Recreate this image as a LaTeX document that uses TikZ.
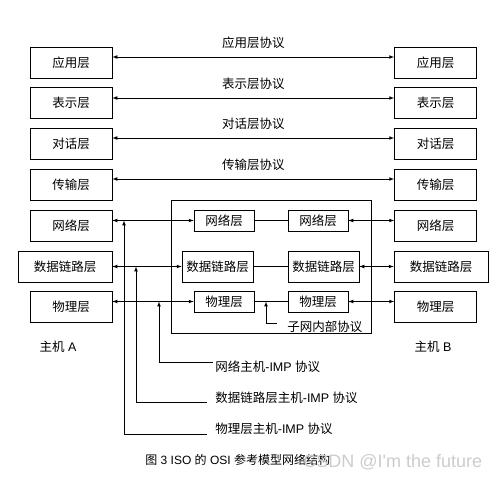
\documentclass[tikz,border=0pt]{standalone}
\usepackage{fontspec}
\setmainfont{Noto Sans CJK SC}
\newfontfamily\latfont{Liberation Sans}
\begin{document}
\begin{tikzpicture}[x=1pt,y=-1pt,line width=0.7pt,
  layer/.style={draw, minimum width=82pt, minimum height=31pt, inner sep=0pt, font=\fontsize{12.5}{14}\selectfont},
  widelayer/.style={layer, minimum width=94pt},
  sublayer/.style={draw, minimum width=60pt, minimum height=21pt, inner sep=0pt, font=\fontsize{12.5}{14}\selectfont},
  subwide/.style={sublayer, minimum width=71pt, minimum height=31pt},
  lbl/.style={inner sep=0pt, font=\fontsize{12.5}{14}\selectfont}]
\useasboundingbox (0,0) rectangle (500,479);

% host A
\node[layer] (la) at (71,62.5) {应用层};
\node[layer] (lp) at (71,103) {表示层};
\node[layer] (ls) at (71,143.5) {对话层};
\node[layer] (lt) at (71,184.5) {传输层};
\node[layer] (ln) at (71,225.5) {网络层};
\node[widelayer] (ld) at (65,266.5) {数据链路层};
\node[layer] (lf) at (71,307) {物理层};
\node[lbl] (ha) at (58,347) {主机{\latfont\ A}};

% host B
\node[layer] (ra) at (435.5,62.5) {应用层};
\node[layer] (rp) at (435.5,103) {表示层};
\node[layer] (rs) at (435.5,143.5) {对话层};
\node[layer] (rt) at (435.5,184.5) {传输层};
\node[layer] (rn) at (435.5,225.5) {网络层};
\node[widelayer] (rd) at (441,266.5) {数据链路层};
\node[layer] (rf) at (435.5,307) {物理层};
\node[lbl] (hb) at (433,347) {主机{\latfont\ B}};

% subnet
\draw (171,200) rectangle (371,333);
\node[sublayer] (sn1) at (224,220.5) {网络层};
\node[sublayer] (sn2) at (318,220.5) {网络层};
\node[subwide] (sd1) at (217.5,266.5) {数据链路层};
\node[subwide] (sd2) at (323.5,266.5) {数据链路层};
\node[sublayer] (sf1) at (224,301.5) {物理层};
\node[sublayer] (sf2) at (318,301.5) {物理层};
\draw (sn1) -- (sn2);
\draw (sd1) -- (sd2);
\draw (sf1) -- (sf2);

% peer protocols
\draw[latex-latex] ([yshift=5.5pt]la.east) -- ([yshift=5.5pt]ra.west) node[midway, above=8pt, lbl] {应用层协议};
\draw[latex-latex] ([yshift=5pt]lp.east) -- ([yshift=5pt]rp.west) node[midway, above=8pt, lbl] {表示层协议};
\draw[latex-latex] ([yshift=5.5pt]ls.east) -- ([yshift=5.5pt]rs.west) node[midway, above=8pt, lbl] {对话层协议};
\draw[latex-latex] ([yshift=5.5pt]lt.east) -- ([yshift=5.5pt]rt.west) node[midway, above=8pt, lbl] {传输层协议};

% host-IMP
\draw[latex-latex] (ln.east |- sn1) -- (sn1.west);
\draw[latex-latex] (ld.east |- sd1) -- (sd1.west);
\draw[latex-latex] (lf.east |- sf1) -- (sf1.west);
\draw[latex-latex] (sn2.east) -- (rn.west |- sn2);
\draw[latex-latex] (sd2.east) -- (rd.west |- sd2);
\draw[latex-latex] (sf2.east) -- (rf.west |- sf2);

\coordinate (jf) at (124,0);
\coordinate (jd) at (136,0);
\coordinate (jn) at (159,0);
\coordinate (js) at (266,0);
\node[lbl, anchor=west] (pn) at (215,367) {网络主机{\latfont -IMP }协议};
\node[lbl, anchor=west] (pd) at (215,398) {数据链路层主机{\latfont -IMP }协议};
\node[lbl, anchor=west] (pf) at (215,429) {物理层主机{\latfont -IMP }协议};
\node[lbl, anchor=west] (sp) at (287,327) {子网内部协议};
\draw[-latex] ([xshift=-2pt,yshift=5pt]pn.west) -| (jn |- sf1);
\draw[-latex] ([xshift=-8pt,yshift=-4pt]pd.west) -| (jd |- sd1);
\draw[-latex] ([xshift=-8pt,yshift=-5pt]pf.west) -| (jf |- sn1);
\draw[-latex] ([xshift=-10pt,yshift=4pt]sp.west) -| (js |- sf1);

% caption
\node[lbl, anchor=west, font=\fontsize{12}{14}\selectfont] (cap) at (145,460) {图{\latfont\ 3 ISO }的{\latfont\ OSI }参考模型网络结构};
\node[lbl, anchor=west, text=gray!40, font=\latfont\fontsize{18}{20}\selectfont] (wm) at (303,462) {CSDN @I'm the future};
\end{tikzpicture}
\end{document}
